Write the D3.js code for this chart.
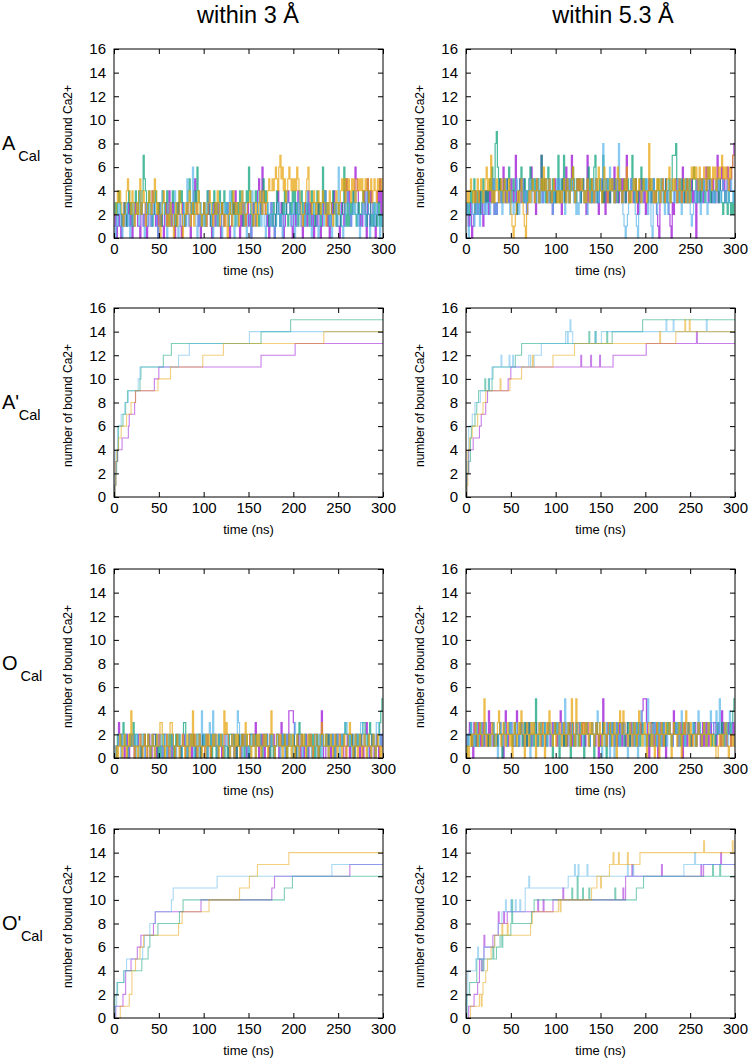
<!DOCTYPE html>
<html><head><meta charset="utf-8">
<script src="https://cdn.jsdelivr.net/npm/d3@7"></script>
<style>body{margin:0;background:#fff}svg text{font-family:"Liberation Sans",Arial,Helvetica,sans-serif;fill:#000}</style>
</head><body><svg id="c" width="750" height="1061"></svg>
<script>
// ---------------- labels / ticks ----------------
const columnTitles = ["within 3 \u00C5", "within 5.3 \u00C5"];
const rowLetters = ["A", "A", "O", "O"];
const rowPrimes = ["", "'", "", "'"];
const rowSub = "Cal";
const xTicks = [0, 50, 100, 150, 200, 250, 300];
const yTicks = [0, 2, 4, 6, 8, 10, 12, 14, 16];
const xTitle = "time (ns)";
const yTitle = "number of bound Ca2+";
const seriesColors = ["#9400d3", "#009e73", "#56b4e9", "#e69f00"]; // purple, green, cyan, orange
const timeSpan = 300; // ns, fluctuating series are evenly sampled frames over this span

// ---------------- A_Cal, within 3 Å (frame values) ----------------
const aCal3Purple = [
1,2,0,1,2,1,0,2,1,3,2,1,2,3,1,2,0,1,2,3, 2,1,1,0,3,2,1,2,3,0,1,2,2,1,4,3,2,1,2,0,
3,1,2,1,0,2,3,1,2,4,2,1,3,2,0,1,2,3,2,1, 0,3,2,1,2,3,2,1,0,3,2,4,5,3,2,1,2,0,1,2,
3,2,1,2,4,2,1,0,2,3,1,2,3,2,1,0,3,2,1,2, 2,3,1,0,1,2,3,2,4,3,2,1,0,2,1,3,2,1,2,3,
1,2,0,1,3,2,1,2,4,5,3,2,6,4,3,2,1,2,0,1, 3,2,1,0,2,3,4,2,1,3,2,0,1,2,3,4,3,2,1,0,
2,3,1,2,4,3,2,1,0,2,3,2,1,4,2,3,1,2,0,1, 2,1,3,2,0,1,2,3,4,2,1,2,0,1,3,2,4,3,2,1,
1,0,2,3,2,1,4,5,3,4,2,1,2,3,4,6,5,4,2,1, 2,1,3,4,2,0,5,2,1,4,3,2,1,0,2,4,3,5,2,4];
const aCal3Green = [
2,3,2,3,4,3,2,1,2,3,2,1,3,4,2,3,1,2,3,4, 3,2,4,3,2,4,7,5,4,3,2,4,3,2,1,2,3,4,3,2,
3,2,1,4,3,2,3,4,2,1,2,3,4,3,2,1,3,2,4,3, 4,3,2,1,2,3,4,5,3,2,3,2,4,3,6,4,3,2,1,2,
3,1,2,4,3,2,1,2,3,4,2,3,1,2,4,3,2,3,4,2, 3,2,1,2,3,4,2,3,1,2,3,2,4,3,2,1,2,3,4,3,
6,4,2,1,2,3,4,3,2,1,2,3,4,5,3,4,3,2,1,2, 2,1,3,2,1,4,3,2,1,2,3,2,4,3,2,1,2,3,2,4,
3,4,2,3,1,2,3,4,2,3,1,2,3,2,1,2,4,3,2,1, 3,4,2,3,1,2,6,3,4,2,3,2,1,2,3,4,2,3,1,2,
3,2,1,2,3,6,2,1,3,1,2,3,2,4,3,2,1,2,3,2, 2,3,4,3,2,1,2,4,3,1,2,1,3,2,1,2,3,1,2,1];
const aCal3Cyan = [
1,0,2,1,3,2,1,0,2,1,2,3,1,2,0,1,3,2,1,2, 3,2,1,4,3,2,1,0,3,2,1,2,3,1,2,4,3,2,1,0,
1,2,3,4,3,2,1,0,1,2,3,2,1,2,4,3,2,0,1,2, 2,1,3,2,1,5,2,1,3,2,6,3,2,1,0,2,1,3,2,1,
2,1,2,3,4,3,2,1,0,1,2,3,2,1,3,2,0,1,2,3, 2,3,1,4,3,2,1,0,2,3,1,2,3,2,4,3,2,1,0,2,
2,1,0,4,3,2,1,2,3,4,2,1,3,2,1,0,2,3,2,1, 3,2,1,0,1,2,3,2,1,2,0,1,2,3,4,3,3,2,1,2,
3,0,1,2,3,4,2,1,2,3,1,2,4,3,2,1,0,2,3,2, 2,1,0,1,2,3,2,1,4,3,2,3,1,2,0,1,2,3,2,1,
6,3,2,1,0,1,2,3,4,3,2,1,2,3,2,4,3,1,2,0, 1,2,3,2,1,4,3,2,0,1,2,3,1,2,3,2,1,0,2,1];
const aCal3Orange = [
2,2,3,4,3,4,3,2,1,2,3,4,5,4,3,2,4,3,1,2, 3,2,4,5,2,3,4,3,1,2,3,4,3,2,4,3,5,4,2,3,
1,0,2,3,4,3,2,1,2,1,3,2,1,0,2,3,1,2,4,3, 2,0,1,2,3,2,3,4,1,2,3,1,2,3,2,4,3,2,1,2,
3,2,1,2,3,4,3,2,1,2,3,2,4,3,1,2,3,2,1,2, 1,0,2,3,2,1,4,3,2,3,2,1,3,2,4,3,2,1,2,3,
3,4,3,2,1,2,3,1,2,3,4,3,2,4,3,2,3,4,5,4, 4,5,4,5,6,5,4,6,7,5,6,4,5,3,4,5,6,5,4,5,
4,5,4,6,5,4,3,2,1,2,3,4,5,6,4,3,2,3,4,3, 2,3,4,3,2,3,4,3,2,1,3,2,4,3,2,1,2,3,4,3,
2,3,4,5,4,5,3,5,4,5,4,3,5,4,5,3,4,5,4,5, 4,5,3,4,5,4,5,3,4,5,3,4,5,4,3,5,4,5,4,5];

// ---------------- A_Cal, within 5.3 Å ----------------
const aCal53Purple = [
3,2,1,2,3,0,1,2,4,3,2,3,4,2,3,1,2,4,3,4, 2,4,3,4,5,2,3,2,3,4,5,3,4,6,4,3,5,4,3,4,
5,4,3,4,7,2,3,4,5,3,4,5,3,4,2,3,4,5,6,4, 4,3,2,5,4,3,4,7,3,4,5,4,3,4,5,3,4,2,3,5,
3,4,5,4,3,2,5,4,3,6,4,5,3,4,7,5,4,3,4,5, 4,5,3,4,5,4,3,2,7,3,4,3,5,4,3,4,5,3,2,4,
4,5,3,4,2,5,3,4,3,4,5,4,6,3,4,5,3,4,5,3, 5,4,3,7,4,3,4,5,4,3,4,5,3,2,4,3,5,4,3,4,
2,3,4,5,4,3,4,5,3,4,2,1,0,3,4,5,4,3,5,4, 3,2,1,0,3,2,4,5,3,4,5,4,3,6,4,3,4,5,3,4,
4,5,3,4,3,0,5,4,3,4,5,3,4,5,6,4,3,5,4,3, 5,4,3,4,7,3,4,5,6,4,5,3,4,6,5,4,5,6,7,8];
const aCal53Green = [
2,3,2,3,4,3,4,5,2,3,4,3,2,4,3,5,4,3,4,3, 4,5,4,6,3,4,8,9,6,4,5,4,3,4,5,4,3,5,6,4,
3,4,5,4,3,2,3,4,5,6,4,3,5,4,3,4,5,6,4,5, 4,5,3,4,5,3,4,7,4,5,4,3,5,6,4,3,4,5,3,4,
3,4,7,3,4,5,4,7,3,4,5,4,3,5,4,6,5,4,3,5, 5,4,3,4,5,4,3,4,5,6,4,5,3,4,6,7,4,3,4,5,
4,3,7,3,4,5,4,5,3,4,5,4,3,5,4,3,4,5,4,3, 4,5,3,4,5,4,3,4,7,4,3,5,4,3,4,5,6,4,5,4,
5,4,3,4,5,3,4,5,4,3,4,5,3,4,5,4,3,4,5,3, 4,5,3,4,7,7,7,8,5,4,3,4,5,4,3,4,5,3,4,5,
3,4,5,6,5,4,3,4,5,3,4,5,4,3,4,5,6,4,3,4, 4,3,4,5,4,3,5,4,3,2,3,4,3,2,4,3,2,3,2,4];
const aCal53Cyan = [
2,3,0,1,2,3,2,1,2,3,2,3,1,2,3,4,2,3,2,3, 3,2,3,4,5,2,3,2,3,4,3,4,2,3,4,5,3,4,3,2,
4,3,2,3,4,5,3,2,3,4,5,4,3,4,2,3,4,5,3,4, 5,4,3,4,5,3,4,3,4,3,4,5,4,3,5,4,3,2,3,4,
4,5,4,5,4,3,4,3,2,3,4,5,3,4,5,4,3,4,2,3, 2,3,4,5,4,3,4,3,2,3,4,3,4,5,4,3,5,4,3,4,
4,5,8,4,5,4,5,4,6,4,5,4,3,4,5,4,8,5,4,3, 2,1,0,1,2,3,4,5,4,5,3,2,1,0,2,3,4,3,4,5,
4,5,2,3,4,1,0,5,4,3,2,3,4,3,5,4,3,2,3,4, 2,3,4,5,4,3,5,3,4,5,4,3,2,3,4,5,4,3,4,3,
2,1,2,3,4,3,4,5,3,2,3,4,5,4,3,2,3,4,5,4, 3,4,3,5,4,5,4,3,4,5,4,3,4,5,3,4,5,4,3,4];
const aCal53Orange = [
3,4,3,4,5,4,3,4,3,4,5,3,4,5,4,3,4,5,6,4, 5,4,7,3,4,3,4,5,4,3,4,5,4,3,5,4,3,4,5,4,
2,1,0,1,2,3,4,3,4,5,3,2,1,0,2,3,4,3,4,5, 4,3,4,5,4,3,4,5,4,6,4,5,3,4,5,4,3,4,5,4,
4,3,4,3,4,3,4,5,4,3,5,4,3,4,5,6,4,3,4,5, 4,5,4,5,4,3,4,3,5,4,3,4,5,4,3,4,5,4,6,5,
4,3,4,6,5,4,3,4,5,4,5,4,3,4,5,6,4,5,4,3, 4,5,4,6,4,3,4,3,4,5,4,5,3,4,5,4,3,4,5,4,
4,3,4,8,4,5,4,3,4,3,5,4,5,3,4,5,4,3,4,5, 5,6,3,4,5,4,5,4,3,4,5,4,3,4,5,4,3,5,4,3,
5,6,5,6,5,6,5,4,6,5,4,5,6,5,4,6,5,6,5,4, 6,5,6,4,5,6,5,6,7,5,6,5,6,5,4,6,5,6,7,7];

// ---------------- O_Cal, within 3 Å ----------------
const oCal3Purple = [
0,0,1,1,3,2,2,1,1,0,1,2,1,0,2,1,1,2,0,1, 1,1,2,2,0,1,1,2,0,0,1,2,1,0,1,2,2,1,0,1,
2,1,1,0,1,2,2,1,0,1,1,0,2,1,0,1,2,1,1,0, 1,2,2,1,0,0,1,2,2,0,1,2,1,0,1,1,2,0,1,2,
1,0,0,2,1,1,0,2,1,1,2,1,0,1,2,1,0,1,1,2, 2,2,0,1,1,2,2,0,1,0,1,2,1,0,2,1,2,1,0,1,
1,2,2,2,1,2,3,1,1,0,1,2,1,2,0,1,2,1,0,2, 1,1,2,0,1,2,2,0,1,3,1,2,1,0,2,1,4,4,4,4,
3,1,0,1,2,1,0,2,1,0,1,2,1,0,1,2,1,0,1,2, 2,1,0,1,2,4,1,0,0,2,1,2,1,0,1,2,1,0,2,1,
2,2,1,1,2,0,0,1,2,1,0,1,2,1,0,1,2,1,1,0, 2,1,0,1,2,3,2,1,0,1,2,1,0,1,2,1,0,1,2,1];
const oCal3Green = [
0,0,1,2,2,2,1,2,3,1,2,1,0,1,2,1,2,3,1,2, 2,1,1,1,0,1,2,2,1,1,2,1,0,1,2,1,1,2,1,0,
1,0,1,2,2,0,0,1,1,2,1,2,1,0,1,2,1,1,2,1, 0,1,3,3,1,0,1,2,2,1,2,1,0,1,2,2,1,0,1,2,
1,2,1,0,1,1,2,0,1,2,1,0,1,2,1,1,2,1,0,1, 1,0,1,2,2,1,1,2,1,0,1,2,1,1,2,1,0,1,2,1,
0,1,2,2,1,1,2,1,1,1,2,1,0,1,2,1,2,1,1,0, 2,1,0,1,1,2,2,1,1,1,2,1,2,1,0,1,2,2,1,1,
2,1,0,1,2,3,2,2,1,1,2,1,0,1,2,1,1,2,1,0, 1,2,1,0,1,2,2,1,1,2,1,2,1,1,2,1,0,1,2,1,
1,1,1,2,1,2,3,2,2,1,2,1,2,1,0,1,2,1,2,1, 1,2,3,3,2,2,1,2,3,2,1,2,1,0,1,2,2,3,4,5];
const oCal3Cyan = [
0,1,0,1,2,1,0,2,1,1,2,1,0,1,2,1,1,2,1,0, 2,1,0,1,2,2,1,0,1,1,2,1,0,1,2,1,0,1,2,1,
1,2,1,0,1,2,1,0,2,1,0,1,2,1,1,0,1,2,1,0, 0,1,2,2,1,0,1,2,1,2,1,0,1,2,1,0,2,1,4,2,
1,2,1,0,2,3,2,1,4,1,2,1,0,1,2,1,2,1,0,1, 2,1,1,0,1,2,1,0,1,2,4,3,2,1,0,1,2,1,1,0,
1,0,1,2,1,1,0,1,2,1,2,1,0,1,2,1,2,1,1,2, 1,2,1,0,1,2,1,1,0,1,2,1,0,1,2,1,1,2,1,0,
2,3,2,1,0,1,2,1,0,1,2,1,0,1,2,1,0,1,1,2, 1,0,1,2,1,0,2,1,1,2,1,0,1,2,1,2,1,0,1,2,
1,0,1,2,1,2,3,3,2,1,2,1,0,1,2,1,2,1,2,1, 3,3,2,1,2,1,0,2,1,0,1,2,1,0,3,3,2,1,2,1];
const oCal3Orange = [
0,0,1,0,1,2,1,0,1,2,1,0,1,2,1,4,2,1,0,1, 1,0,1,2,1,0,1,2,1,0,2,1,0,1,2,1,0,1,2,1,
1,3,3,2,1,0,1,2,1,0,3,3,2,1,0,1,2,1,0,1, 1,2,1,0,1,2,1,0,2,1,4,1,2,1,0,1,2,1,0,1,
1,0,2,1,2,1,0,1,2,1,2,2,1,0,1,2,1,0,4,2, 3,2,1,0,1,2,1,0,2,1,2,1,0,1,2,1,2,3,1,2,
2,1,0,1,2,1,0,2,1,2,1,0,1,2,1,2,1,0,1,2, 4,2,1,0,1,2,2,1,2,1,0,1,2,1,0,1,2,1,0,2,
1,0,1,2,1,0,1,2,1,2,1,0,1,2,1,2,1,0,1,2, 2,1,0,1,2,3,2,1,1,2,1,0,1,2,1,0,1,2,1,0,
1,2,1,0,1,2,1,0,1,2,3,2,1,0,1,2,1,0,1,2, 1,0,1,2,1,0,1,2,1,0,1,2,1,0,1,2,1,0,1,0];

// ---------------- O_Cal, within 5.3 Å ----------------
const oCal53Purple = [
1,2,2,3,2,1,0,3,2,1,2,3,2,1,2,3,1,2,2,1, 4,2,3,3,1,2,2,2,1,2,3,2,1,0,3,4,2,1,2,3,
3,2,1,1,3,4,2,1,2,3,2,1,2,3,1,2,3,2,1,2, 2,3,3,1,2,2,2,1,3,3,2,1,2,3,2,1,2,3,2,3,
2,1,2,3,4,2,2,1,3,2,1,2,3,2,1,3,2,1,2,3, 3,2,1,2,3,3,1,2,3,2,1,2,3,2,2,1,3,2,0,2,
1,2,5,2,2,1,3,2,1,2,3,2,1,2,3,1,2,3,2,1, 3,2,1,2,3,3,1,3,2,1,2,3,2,1,2,3,2,4,5,5,
5,3,2,0,2,3,3,1,2,3,2,0,2,3,2,1,3,2,0,2, 2,3,2,2,1,4,2,3,2,1,2,3,2,0,2,3,2,1,3,2,
2,1,2,3,3,1,2,3,2,1,2,3,1,2,3,2,1,2,3,2, 2,3,3,1,2,3,2,1,4,2,3,2,1,2,3,2,1,2,3,2];
const oCal53Green = [
0,1,2,2,3,1,2,2,1,3,2,1,2,3,2,1,2,3,2,1, 2,1,2,2,3,1,2,2,1,2,3,2,0,2,3,2,1,2,2,3,
2,1,2,3,2,1,1,2,3,2,1,2,3,2,1,2,3,1,2,2, 1,2,5,2,1,2,3,2,1,2,3,2,1,2,3,2,2,0,2,3,
2,3,2,0,2,2,3,1,2,1,2,3,2,0,3,2,1,2,3,2, 1,2,3,2,2,0,2,3,2,2,1,2,3,2,0,2,3,2,2,1,
1,2,3,2,1,0,2,2,3,1,2,3,2,1,2,3,2,1,2,3, 2,1,2,2,3,2,1,2,2,3,2,1,2,3,2,1,2,3,2,2,
2,1,2,2,1,2,3,3,2,1,2,3,2,1,2,3,2,1,2,3, 2,3,2,1,2,2,3,2,2,3,2,1,2,3,2,1,2,2,3,2,
1,2,2,3,2,1,2,3,3,2,1,2,3,2,1,2,3,2,2,1, 2,2,1,2,3,2,2,2,3,2,1,2,3,2,2,3,2,3,4,5];
const oCal53Cyan = [
1,2,1,2,3,2,2,1,2,3,2,1,2,3,2,1,2,3,2,2, 2,2,1,2,3,2,2,1,0,2,3,2,1,2,3,2,1,2,3,2,
3,2,2,1,2,3,2,1,2,2,3,2,1,2,3,2,2,0,2,3, 3,2,2,1,2,3,3,2,1,2,3,2,1,2,3,2,1,2,3,2,
2,3,2,2,1,2,3,2,5,2,3,2,1,2,3,2,2,1,2,3, 3,3,2,2,1,2,2,3,2,2,1,2,3,2,1,2,3,4,3,2,
2,0,1,2,2,3,2,2,0,2,3,2,0,2,3,2,1,2,3,2, 2,3,2,2,0,2,3,2,2,1,2,3,2,0,2,3,4,3,2,1,
2,3,5,3,2,2,1,2,3,2,1,2,3,2,1,2,3,2,2,1, 2,3,2,2,1,2,2,3,2,1,2,3,4,3,2,1,2,3,2,2,
2,2,3,2,1,2,2,4,3,2,1,2,3,2,1,2,3,2,4,3, 3,2,2,4,3,2,5,2,2,1,2,3,2,1,2,4,3,2,2,1];
const oCal53Orange = [
0,1,0,1,2,1,2,2,3,2,1,2,3,2,1,2,5,2,1,2, 2,1,2,3,2,1,1,2,3,4,2,1,2,3,2,1,2,3,2,1,
2,0,2,3,2,1,2,3,2,4,3,2,0,2,3,2,1,2,3,2, 3,2,0,2,2,3,1,2,3,2,0,2,3,2,4,3,2,1,2,3,
1,2,2,3,2,1,2,3,2,1,2,3,2,1,5,3,2,1,5,3, 2,1,2,3,2,3,2,3,2,1,3,2,3,2,1,2,3,2,1,3,
2,1,2,3,2,1,2,3,3,2,1,2,3,2,0,2,3,4,3,2, 4,3,2,2,1,2,3,2,1,2,3,2,1,2,4,3,2,1,2,3,
2,0,2,3,3,1,2,1,0,2,3,2,0,2,3,2,1,2,3,2, 2,3,2,0,2,3,2,2,1,2,3,2,0,2,3,2,4,3,2,1,
3,2,1,2,2,1,2,3,2,2,1,2,3,2,1,2,3,2,1,2, 2,1,1,0,0,1,2,1,2,1,2,3,2,1,0,1,2,1,2,1];

// ---------------- A'_Cal, within 3 Å: [time ns, count] change points ----------------
const apCal3Purple = [[0,0],[1,1],[2,3],[4,4],[9,5],[16,6],[17,7],[23,8],[24,9],[45,10],[50,11],[164,12],[202,13]];
const apCal3Green = [[0,0],[1,1],[2,2],[3,3],[4,4],[5,6],[10,7],[13,8],[15,9],[29,10],[30,11],[55,12],[64,13],[164,14],[197,15]];
const apCal3Cyan = [[0,0],[1,2],[2,4],[4,6],[8,7],[12,8],[16,9],[27,10],[29,11],[72,12],[84,13],[151,14]];
const apCal3Orange = [[0,0],[1,1],[2,3],[3,4],[5,5],[8,6],[14,7],[19,8],[24,9],[49,10],[63,11],[99,12],[122,13],[234,14]];

// ---------------- A'_Cal, within 5.3 Å ----------------
const apCal53Purple = [[0,0],[1,2],[3,4],[8,5],[15,6],[17,7],[22,8],[24,9],[47,10],[50,11],[128,12],[129,11],[139,12],[140,11],[149,12],[150,11],[164,12],[201,13],[257,14],[258,13]];
const apCal53Green = [[0,0],[0.5,1],[1,2],[3,3],[5,5],[6,6],[10,7],[12,8],[14,9],[21,10],[22,9],[25,10],[26,9],[29,10],[30,11],[55,12],[62,13],[137,14],[138,13],[144,14],[145,13],[157,14],[158,13],[163,14],[197,15]];
const apCal53Cyan = [[0,0],[1,3],[3,6],[7,7],[10,8],[16,9],[26,10],[29,11],[39,12],[40,11],[48,12],[49,11],[52,12],[53,11],[70,12],[72,11],[76,12],[84,13],[111,14],[113,13],[114,14],[116,15],[117,14],[119,13],[144,14],[145,13],[151,14],[223,15],[224,14],[231,15],[232,14],[268,15],[269,14]];
const apCal53Orange = [[0,0],[1,1],[2,4],[4,5],[7,6],[13,7],[19,8],[22,9],[38,10],[39,9],[49,10],[62,11],[74,12],[75,11],[97,12],[121,13],[216,14],[217,13],[234,14],[244,15],[245,14],[249,15],[250,14]];

// ---------------- O'_Cal, within 3 Å ----------------
const opCal3Purple = [[0,0],[2,1],[10,2],[13,4],[19,5],[26,6],[30,7],[44,8],[46,9],[97,10],[176,11],[179,12],[263,13]];
const opCal3Green = [[0,0],[1,2],[4,3],[11,4],[31,5],[38,6],[40,7],[49,8],[73,9],[77,10],[190,11],[199,12]];
const opCal3Cyan = [[0,0],[1,1],[3,3],[11,4],[14,5],[32,6],[34,7],[40,8],[46,9],[64,10],[66,11],[115,12],[243,13]];
const opCal3Orange = [[0,0],[7,1],[17,2],[20,4],[24,5],[29,6],[33,7],[72,8],[76,9],[106,10],[140,11],[151,12],[160,13],[195,14]];

// ---------------- O'_Cal, within 5.3 Å ----------------
const opCal53Purple = [[0,0],[3,1],[9,2],[13,3],[15,5],[17,4],[19,5],[20,7],[21,6],[30,7],[36,9],[37,8],[42,9],[43,8],[46,9],[80,10],[81,9],[86,10],[87,9],[97,10],[108,11],[109,10],[175,11],[176,10],[178,12],[185,13],[186,12],[218,13],[219,12],[262,13],[263,12],[265,13],[284,14],[285,13]];
const opCal53Green = [[0,0],[1,2],[4,3],[12,5],[18,4],[20,5],[30,6],[31,5],[34,6],[38,7],[40,6],[41,7],[50,8],[51,10],[52,8],[73,9],[76,10],[118,11],[119,10],[124,12],[125,10],[130,11],[131,10],[137,11],[138,10],[166,11],[167,10],[190,11],[198,12],[275,13],[276,12],[283,13],[284,12]];
const opCal53Cyan = [[0,0],[1,2],[2,4],[11,5],[13,6],[14,5],[20,6],[32,7],[36,8],[40,9],[44,10],[45,9],[50,10],[51,9],[55,10],[56,9],[60,10],[61,9],[66,11],[70,12],[71,11],[114,12],[121,13],[122,12],[125,13],[126,12],[135,13],[136,12],[180,13],[181,12],[186,13],[187,12],[243,13],[255,14],[256,13]];
const opCal53Orange = [[0,0],[5,1],[15,2],[17,1],[18,2],[19,3],[22,4],[24,5],[28,6],[32,7],[40,8],[41,7],[46,8],[47,7],[72,8],[74,9],[103,10],[105,9],[106,10],[140,11],[146,12],[150,11],[151,12],[160,13],[164,14],[165,13],[170,14],[171,13],[180,14],[181,13],[194,14],[265,15],[266,14],[297,15],[298,14]];

// ---------------- layout ----------------
const plotLeft = [114, 466];
const plotTop = [49, 308, 569, 829];
const plotW = 269, plotH = 189;
const titleX = [248, 613];

const panels = [
  {r:0, c:0, kind:"frames", s:[aCal3Purple, aCal3Green, aCal3Cyan, aCal3Orange]},
  {r:0, c:1, kind:"frames", s:[aCal53Purple, aCal53Green, aCal53Cyan, aCal53Orange]},
  {r:1, c:0, kind:"steps", s:[apCal3Purple, apCal3Green, apCal3Cyan, apCal3Orange]},
  {r:1, c:1, kind:"steps", s:[apCal53Purple, apCal53Green, apCal53Cyan, apCal53Orange]},
  {r:2, c:0, kind:"frames", s:[oCal3Purple, oCal3Green, oCal3Cyan, oCal3Orange]},
  {r:2, c:1, kind:"frames", s:[oCal53Purple, oCal53Green, oCal53Cyan, oCal53Orange]},
  {r:3, c:0, kind:"steps", s:[opCal3Purple, opCal3Green, opCal3Cyan, opCal3Orange]},
  {r:3, c:1, kind:"steps", s:[opCal53Purple, opCal53Green, opCal53Cyan, opCal53Orange]}
];

const svg = d3.select("#c");
const x = d3.scaleLinear().domain([0, 300]).range([0, plotW]);
const y = d3.scaleLinear().domain([0, 16]).range([plotH, 0]);
const line = d3.line().x(d => x(d[0])).y(d => y(d[1])).curve(d3.curveStepAfter);

// column titles
columnTitles.forEach((t, i) => {
  svg.append("text").attr("x", titleX[i]).attr("y", 23).attr("text-anchor", "middle")
    .style("font-size", "23.5px").text(t);
});

// row labels (one text element each: letter, optional prime, subscript)
rowLetters.forEach((L, r) => {
  const base = plotTop[r] + 101;
  const t = svg.append("text").attr("x", 2).attr("y", base).style("font-size", "20px");
  t.append("tspan").text(L);
  if (rowPrimes[r]) t.append("tspan").text(rowPrimes[r]);
  t.append("tspan").attr("dx", rowPrimes[r] ? -0.5 : 3).attr("dy", 11).style("font-size", "14.5px").text(rowSub);
});

panels.forEach((p, k) => {
  const g = svg.append("g").attr("transform", `translate(${plotLeft[p.c]},${plotTop[p.r]})`);
  const cid = "clip" + k;
  g.append("clipPath").attr("id", cid).append("rect").attr("x", 0).attr("y", -1).attr("width", plotW).attr("height", plotH + 2);

  const dg = g.append("g").attr("clip-path", `url(#${cid})`);
  p.s.forEach((ser, si) => {
    let pts;
    if (p.kind === "frames") {
      const dt = timeSpan / ser.length;
      pts = ser.map((v, i) => [i * dt, v]);
      pts.push([timeSpan, ser[ser.length - 1]]);
    } else {
      pts = ser.slice();
      pts.push([timeSpan, ser[ser.length - 1][1]]);
    }
    dg.append("path").attr("d", line(pts)).attr("fill", "none")
      .attr("stroke", seriesColors[si])
      .attr("stroke-width", p.kind === "frames" ? 1.2 : 1.1)
      .attr("stroke-opacity", p.kind === "frames" ? 0.7 : 0.5);
  });

  // axes with inward ticks on all sides
  const ax = g.append("g").attr("transform", `translate(0,${plotH})`)
    .call(d3.axisBottom(x).tickValues(xTicks).tickSizeInner(-5).tickSizeOuter(0).tickPadding(5));
  const ay = g.append("g")
    .call(d3.axisLeft(y).tickValues(yTicks).tickSizeInner(-5).tickSizeOuter(0).tickPadding(8));
  const at = g.append("g")
    .call(d3.axisTop(x).tickValues(xTicks).tickSizeInner(-5).tickSizeOuter(0).tickFormat(""));
  const ar = g.append("g").attr("transform", `translate(${plotW},0)`)
    .call(d3.axisRight(y).tickValues(yTicks).tickSizeInner(-5).tickSizeOuter(0).tickFormat(""));
  [ax, ay, at, ar].forEach(a => {
    a.select(".domain").remove();
    a.selectAll("line").attr("stroke", "#000");
    a.selectAll("text").style("font-size", "15px").attr("fill", "#000").style("font-family", '"Liberation Sans",Arial,sans-serif');
  });
  g.append("rect").attr("width", plotW).attr("height", plotH).attr("fill", "none").attr("stroke", "#000").attr("stroke-width", 1);

  g.append("text").attr("x", plotW / 2).attr("y", plotH + 37).attr("text-anchor", "middle")
    .style("font-size", "13px").text(xTitle);
  g.append("text").attr("transform", `translate(-46,${plotH / 2 + 3}) rotate(-90)`)
    .attr("text-anchor", "middle").attr("dy", "0.35em").style("font-size", "12px").text(yTitle);
});
</script></body></html>
